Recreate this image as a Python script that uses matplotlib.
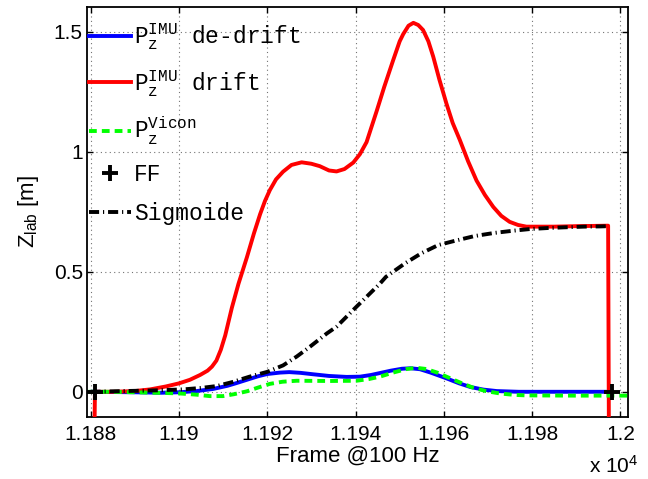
#!/usr/bin/env python3
# -*- coding: utf-8 -*-

import matplotlib
matplotlib.use("Agg")
import matplotlib.pyplot as plt


# vertical position of the tracker during the jump, frame index at 100 Hz
RED_X = [11880.8, 11881.0, 11885, 11890, 11893.5, 11897, 11900, 11902.5, 11904.8, 11906.5,
         11907.5, 11908.5, 11909.5, 11910.5, 11912, 11913.5, 11915.4, 11917, 11918.4, 11919.5,
         11920.6, 11922, 11923.6, 11925.5, 11927.8, 11930, 11931.9, 11934, 11935.7, 11937.5,
         11939.5, 11941, 11942.5, 11944.8, 11946.5, 11948.5, 11950, 11950.8, 11952, 11953.1,
         11954.2, 11955.3, 11956.5, 11957.6, 11959, 11960.6, 11962, 11963.6, 11965.5, 11967.4,
         11969.3, 11971.2, 11973, 11974.9, 11976.8, 11978.7, 11985, 11990, 11997.2, 11997.4]
RED_Y = [-0.3, 0.0, 0.0, 0.003, 0.01, 0.022, 0.035, 0.05, 0.07, 0.088,
         0.105, 0.13, 0.175, 0.235, 0.35, 0.45, 0.56, 0.66, 0.74, 0.795,
         0.84, 0.885, 0.917, 0.945, 0.956, 0.95, 0.94, 0.922, 0.918, 0.928,
         0.955, 0.99, 1.04, 1.17, 1.27, 1.38, 1.46, 1.49, 1.525, 1.537,
         1.528, 1.507, 1.46, 1.396, 1.30, 1.20, 1.12, 1.05, 0.96, 0.88,
         0.82, 0.77, 0.733, 0.708, 0.695, 0.688, 0.688, 0.69, 0.692, -0.3]

BLUE_X = [11880.5, 11890, 11896, 11900, 11904, 11907.8, 11911, 11913, 11915.4, 11918,
          11920, 11922.9, 11925, 11927.5, 11930.4, 11934, 11938, 11941, 11943.5, 11945.5,
          11948, 11950.5, 11952.5, 11954.6, 11957, 11960.6, 11963.5, 11966, 11969, 11972,
          11977, 11990, 11998]
BLUE_Y = [0.0, -0.002, -0.004, -0.002, 0.003, 0.012, 0.025, 0.036, 0.05, 0.065,
          0.074, 0.08, 0.082, 0.079, 0.073, 0.066, 0.062, 0.063, 0.07, 0.078,
          0.088, 0.096, 0.098, 0.094, 0.08, 0.056, 0.035, 0.02, 0.009, 0.003,
          0.0, 0.0, 0.0]

GREEN_X = [11879.5, 11885, 11892, 11897, 11900.3, 11904, 11907, 11910, 11912.5, 11915.4,
           11918, 11920.6, 11923.5, 11926.7, 11934.2, 11940.2, 11943, 11945.5, 11948.5, 11951.6,
           11953.8, 11956, 11958.5, 11960.6, 11963.5, 11966.5, 11969.5, 11972.7, 11976, 11978.7,
           11990, 12001.7]
GREEN_Y = [0.0, 0.0, -0.003, -0.005, -0.007, -0.012, -0.018, -0.018, -0.01, 0.002,
           0.018, 0.033, 0.042, 0.046, 0.045, 0.046, 0.053, 0.063, 0.08, 0.095,
           0.1, 0.095, 0.08, 0.063, 0.04, 0.018, 0.003, -0.007, -0.013, -0.015,
           -0.016, -0.016]

SIG_X = [11880, 11890, 11895, 11901, 11905, 11908.6, 11912, 11916, 11920, 11923.6,
         11926.7, 11929.7, 11933.5, 11935.7, 11940.2, 11945.5, 11946.9, 11951.2, 11954.9, 11958.7,
         11962.5, 11967, 11971.5, 11975.7, 11979.5, 11983.3, 11987.1, 11991.6, 11995.5, 11997.2]
SIG_Y = [0.0, 0.004, 0.006, 0.01, 0.016, 0.024, 0.04, 0.063, 0.083, 0.11,
         0.147, 0.188, 0.243, 0.271, 0.354, 0.45, 0.479, 0.535, 0.577, 0.611,
         0.629, 0.649, 0.662, 0.671, 0.678, 0.682, 0.685, 0.688, 0.689, 0.69]

FF_X = [11881, 11998]
FF_Y = [0.0, 0.0]

X_TICKS = [11880, 11900, 11920, 11940, 11960, 11980, 12000]
X_TICK_LABELS = ["1.188", "1.19", "1.192", "1.194", "1.196", "1.198", "1.2"]
Y_TICKS = [0, 0.5, 1, 1.5]
Y_TICK_LABELS = ["0", "0.5", "1", "1.5"]

XLIM = (11879.2, 12001.7)
YLIM = (-0.105, 1.603)

LEGEND_LABELS = [
    r"$\mathtt{P}_\mathtt{z}^\mathtt{IMU}$ de-drift",
    r"$\mathtt{P}_\mathtt{z}^\mathtt{IMU}$ drift",
    r"$\mathtt{P}_\mathtt{z}^\mathtt{Vicon}$",
    "FF",
    "Sigmoide",
]

SANS = "Liberation Sans"
MONO = "Liberation Mono"
LW = 2.8


def main():
    plt.rcParams["font.family"] = SANS
    plt.rcParams["mathtext.fontset"] = "custom"
    plt.rcParams["mathtext.rm"] = SANS
    plt.rcParams["mathtext.it"] = SANS
    plt.rcParams["mathtext.tt"] = MONO

    fig = plt.figure(figsize=(6.48, 4.79), dpi=100)
    ax = fig.add_axes([87 / 648, 62 / 479, 541 / 648, 410 / 479])

    line_kw = dict(lw=LW, solid_joinstyle="round", dash_joinstyle="round")
    ax.plot(BLUE_X, BLUE_Y, color="#0000ff", label=LEGEND_LABELS[0], zorder=3, **line_kw)
    ax.plot(RED_X, RED_Y, color="#ff0000", label=LEGEND_LABELS[1], zorder=4, **line_kw)
    ax.plot(GREEN_X, GREEN_Y, color="#00ff00", ls=(0, (2.0, 1.3)),
            label=LEGEND_LABELS[2], zorder=5, **line_kw)
    ax.plot(FF_X, FF_Y, ls="none", marker="+", color="k", ms=11, mew=2.8,
            label=LEGEND_LABELS[3], zorder=6)
    ax.plot(SIG_X, SIG_Y, color="k", ls=(0, (2.6, 1.0, 0.3, 1.0)),
            label=LEGEND_LABELS[4], zorder=7, **line_kw)

    ax.set_xlim(*XLIM)
    ax.set_ylim(*YLIM)
    ax.set_xticks(X_TICKS)
    ax.set_xticklabels(X_TICK_LABELS)
    ax.set_yticks(Y_TICKS)
    ax.set_yticklabels(Y_TICK_LABELS)
    ax.tick_params(direction="in", length=4, width=1, labelsize=15,
                   top=True, right=True)
    ax.tick_params(axis="x", pad=6)
    ax.tick_params(axis="y", pad=3)
    for spine in ax.spines.values():
        spine.set_linewidth(1.3)

    ax.grid(True, color="0.45", ls=(0, (1, 3)), lw=0.8)
    ax.set_axisbelow(True)

    ax.set_xlabel("Frame @100 Hz", fontsize=16, labelpad=1)
    ax.set_ylabel(r"Z$_{\mathrm{lab}}$ [m]", fontsize=16, labelpad=9)

    fig.text(0.985, 0.012, r"x 10$^{4}$", ha="right", va="baseline", fontsize=15)

    ax.legend(loc="upper left", bbox_to_anchor=(0.0, 1.0 - 12 / 410), frameon=False,
              prop={"family": MONO, "size": 16.5}, handlelength=1.8,
              handletextpad=0.15, borderaxespad=0.0, borderpad=0.1,
              labelspacing=0.7, numpoints=1)

    fig.savefig("out.png", dpi=100)
    plt.close(fig)


if __name__ == "__main__":
    main()
